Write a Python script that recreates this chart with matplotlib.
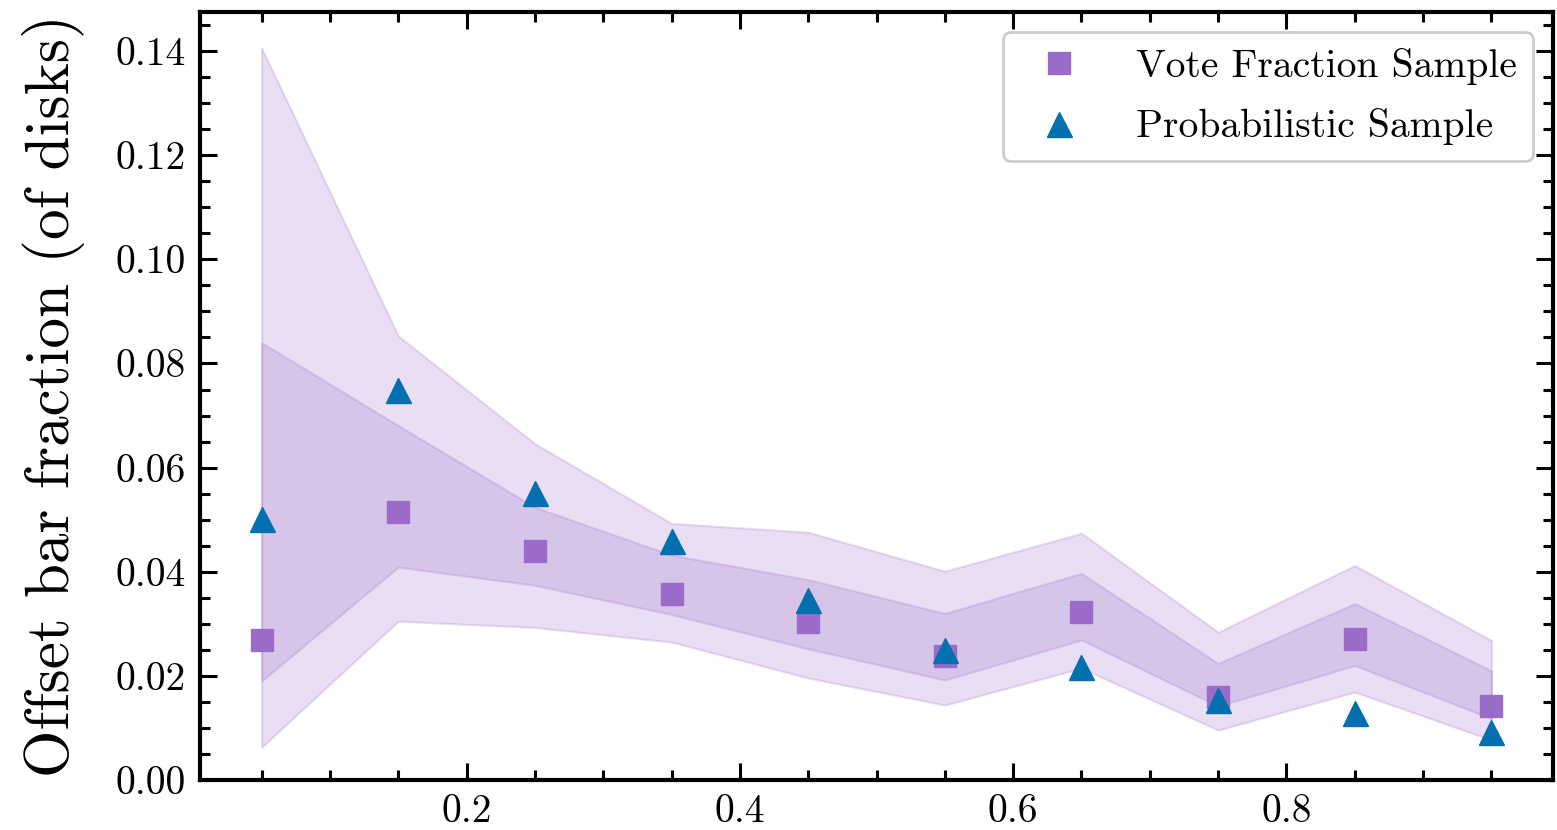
import matplotlib
matplotlib.use("Agg")
import matplotlib.pyplot as plt
from matplotlib.ticker import MultipleLocator

plt.rcParams['font.family'] = ['cmr10', 'DejaVu Serif']
plt.rcParams['mathtext.fontset'] = 'cm'
plt.rcParams['axes.formatter.use_mathtext'] = True

x = [0.05, 0.15, 0.25, 0.35, 0.45, 0.55, 0.65, 0.75, 0.85, 0.95]
vote_frac = [0.0268, 0.0514, 0.0439, 0.0358, 0.0303, 0.0238, 0.0322, 0.0159, 0.0270, 0.0142]
prob_frac = [0.0502, 0.0750, 0.0552, 0.0460, 0.0345, 0.0249, 0.0217, 0.0153, 0.0128, 0.0092]
outer_hi = [0.1406, 0.0853, 0.0646, 0.0493, 0.0476, 0.0401, 0.0474, 0.0284, 0.0412, 0.0268]
outer_lo = [0.0063, 0.0305, 0.0293, 0.0265, 0.0196, 0.0144, 0.0215, 0.0096, 0.0169, 0.0077]
inner_hi = [0.0840, 0.0681, 0.0524, 0.0432, 0.0385, 0.0320, 0.0397, 0.0224, 0.0339, 0.0210]
inner_lo = [0.0190, 0.0409, 0.0374, 0.0318, 0.0252, 0.0192, 0.0269, 0.0142, 0.0220, 0.0118]

purple = '#9b6bc9'
blue = '#0570b0'

fig = plt.figure(figsize=(15.57, 8.30), dpi=100)
ax = fig.add_axes([0.1285, 0.0602, 0.8689, 0.9253])

ax.fill_between(x, outer_lo, outer_hi, color=purple, alpha=0.22, lw=1.5)
ax.fill_between(x, inner_lo, inner_hi, color=purple, alpha=0.22, lw=1.5)
ax.plot(x, vote_frac, 's', color=purple, ms=16.5, ls='none', label='Vote Fraction Sample')
ax.plot(x, prob_frac, '^', color=blue, ms=18, ls='none', label='Probabilistic Sample')

ax.set_ylim(0, 0.1475)
ax.set_xlim(0.005, 0.995)
ax.xaxis.set_major_locator(MultipleLocator(0.2))
ax.xaxis.set_minor_locator(MultipleLocator(0.05))
ax.yaxis.set_major_locator(MultipleLocator(0.02))
ax.yaxis.set_minor_locator(MultipleLocator(0.005))
ax.xaxis.set_major_formatter(plt.FuncFormatter(lambda v, p: f'{v:.1f}'))
ax.yaxis.set_major_formatter(plt.FuncFormatter(lambda v, p: f'{v:.2f}'))

for s in ax.spines.values():
    s.set_linewidth(3.0)
ax.tick_params(which='both', direction='in', top=True, right=True, labelsize=28.5, width=2.2)
ax.tick_params(which='major', length=12, pad=10)
ax.tick_params(which='minor', length=7)

ax.set_ylabel('Offset bar fraction (of disks)', fontsize=44, labelpad=22)

leg = ax.legend(loc='upper right', fontsize=28.5, frameon=True, fancybox=True,
                edgecolor='#cccccc', framealpha=1.0, borderpad=0.4, labelspacing=0.6,
                handletextpad=0.96)
leg.get_frame().set_linewidth(2)

fig.savefig('out.png', dpi=100)
